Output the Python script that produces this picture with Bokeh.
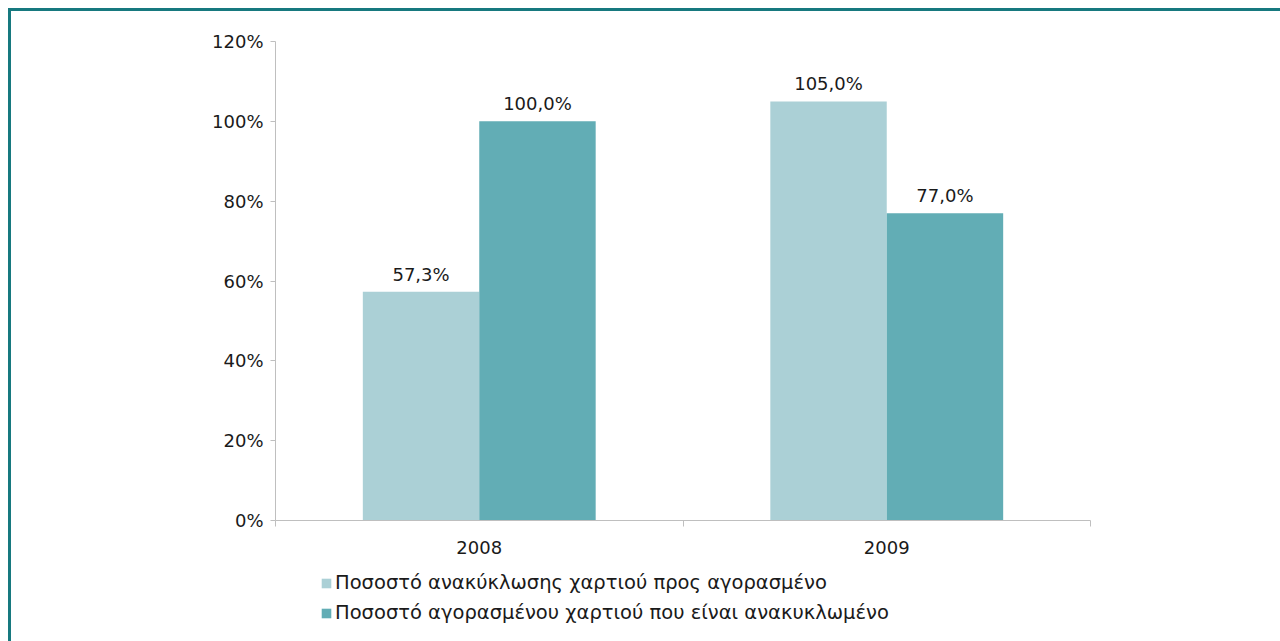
from bokeh.plotting import figure
from bokeh.layouts import column
from bokeh.models import ColumnDataSource, FixedTicker, Legend, LegendItem, Range1d
from bokeh.core.properties import value
from bokeh.embed import file_html
from bokeh.resources import INLINE

categories = ["2008", "2009"]
series_names = ["Ποσοστό ανακύκλωσης χαρτιού προς αγορασμένο",
                "Ποσοστό αγορασμένου χαρτιού που είναι ανακυκλωμένο"]
recycled_vs_bought = [57.3, 105.0]
bought_recycled = [100.0, 77.0]
y_ticks = [0, 20, 40, 60, 80, 100, 120]

FONT = "DejaVu Sans"
LIGHT = "#abd0d6"
DARK = "#62adb5"
BAR_W = 1 / 3.5
W = 1269

p = figure(width=W, height=555, output_backend="svg", toolbar_location=None,
           x_range=Range1d(0, len(categories)), y_range=Range1d(0, 120),
           min_border_left=264, min_border_right=190, min_border_top=30, min_border_bottom=46)
p.outline_line_color = None
p.grid.grid_line_color = None

centers = [i + 0.5 for i in range(len(categories))]
def fmt(v):
    return ("%.1f" % v).replace(".", ",") + "%"

s1 = ColumnDataSource(dict(x=[c - BAR_W / 2 for c in centers], top=recycled_vs_bought,
                           lab=[fmt(v) for v in recycled_vs_bought]))
s2 = ColumnDataSource(dict(x=[c + BAR_W / 2 for c in centers], top=bought_recycled,
                           lab=[fmt(v) for v in bought_recycled]))

p.vbar(x="x", top="top", width=BAR_W, source=s1, fill_color=LIGHT, line_color=None)
p.vbar(x="x", top="top", width=BAR_W, source=s2, fill_color=DARK, line_color=None)
for s in (s1, s2):
    p.text(x="x", y="top", text="lab", source=s, text_align="center", text_baseline="bottom",
           y_offset=-7, text_font=value(FONT), text_font_size="18px", text_color="#1a1a1a")

# y axis
p.yaxis.ticker = FixedTicker(ticks=y_ticks)
p.yaxis.major_label_overrides = {t: "%d%%" % t for t in y_ticks}
p.yaxis.axis_line_color = "#bfbfbf"
p.yaxis.major_tick_line_color = "#bfbfbf"
p.yaxis.major_tick_out = 5
p.yaxis.major_tick_in = 0
p.yaxis.minor_tick_line_color = None
p.yaxis.major_label_standoff = 7
p.yaxis.major_label_text_font = FONT
p.yaxis.major_label_text_font_size = "18px"
p.yaxis.major_label_text_color = "#1a1a1a"

# x axis: labels at category centres, ticks at boundaries
p.xaxis.ticker = FixedTicker(ticks=centers, minor_ticks=list(range(len(categories) + 1)))
p.xaxis.major_label_overrides = {c: cat for c, cat in zip(centers, categories)}
p.xaxis.axis_line_color = "#bfbfbf"
p.xaxis.major_tick_line_color = None
p.xaxis.minor_tick_line_color = "#bfbfbf"
p.xaxis.minor_tick_out = 6
p.xaxis.minor_tick_in = 0
p.xaxis.major_label_standoff = 14
p.xaxis.major_label_text_font = FONT
p.xaxis.major_label_text_font_size = "18px"
p.xaxis.major_label_text_color = "#1a1a1a"

# legend strip (its frame is aligned with the main plot's frame)
p2 = figure(width=W, height=75, output_backend="svg", toolbar_location=None,
            x_range=Range1d(0, 1), y_range=Range1d(0, 1),
            x_axis_type=None, y_axis_type=None,
            min_border_left=264, min_border_right=190, min_border_top=0, min_border_bottom=0)
p2.outline_line_color = None
p2.grid.grid_line_color = None
swatch = ColumnDataSource(dict(x=[0.5], top=[0], bottom=[0]))
l1 = p2.vbar(x="x", top="top", bottom="bottom", width=0, source=swatch,
             fill_color=LIGHT, line_color=None)
l2 = p2.vbar(x="x", top="top", bottom="bottom", width=0, source=swatch,
             fill_color=DARK, line_color=None)
legend = Legend(items=[LegendItem(label=series_names[0], renderers=[l1]),
                       LegendItem(label=series_names[1], renderers=[l2])],
                location=(45, 17), orientation="vertical",
                label_text_font=FONT, label_text_font_size="19.5px", label_text_color="#1a1a1a",
                label_height=20, glyph_width=12, glyph_height=12, label_standoff=3, spacing=7,
                padding=5, margin=0, border_line_color=None, background_fill_alpha=0)
p2.add_layout(legend, "center")

layout = column(p, p2, spacing=0)
layout.styles = {"border-top": "3px solid #17797f", "border-left": "3px solid #17797f",
                 "margin-top": "8px", "margin-left": "8px"}

open("out.html", "w").write(file_html(layout, INLINE))
